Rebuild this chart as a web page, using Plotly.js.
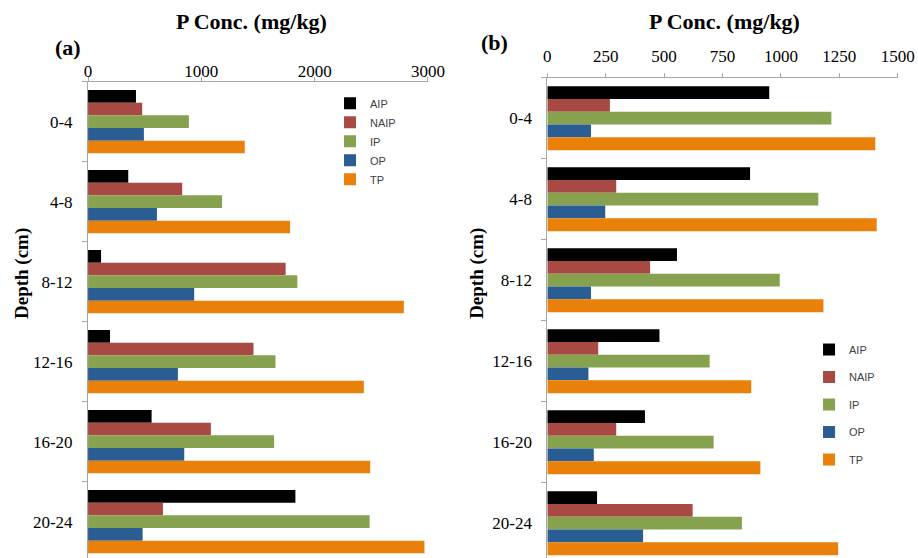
<!DOCTYPE html>
<html>
<head>
<meta charset="utf-8">
<script src="https://cdn.plot.ly/plotly-3.0.1.min.js"></script>
<style>html,body{margin:0;padding:0;background:#fff;}#chart{width:918px;height:558px;}</style>
</head>
<body>
<div id="chart"></div>
<script>
const depths = ['0-4', '4-8', '8-12', '12-16', '16-20', '20-24'];
const seriesNames = ['AIP', 'NAIP', 'IP', 'OP', 'TP'];
const seriesColors = ['#000000', '#A84A43', '#86A24E', '#2A5D93', '#E8800A'];

// Panel (a)
const a_AIP  = [423, 355, 115, 194, 561, 1830];
const a_NAIP = [478, 831, 1744, 1460, 1084, 661];
const a_IP   = [890, 1183, 1847, 1654, 1642, 2485];
const a_OP   = [493, 608, 937, 793, 849, 482];
const a_TP   = [1383, 1783, 2787, 2434, 2490, 2969];

// Panel (b)
const b_AIP  = [950, 868, 555, 480, 418, 213];
const b_NAIP = [268, 295, 440, 218, 295, 622];
const b_IP   = [1216, 1160, 995, 695, 712, 833];
const b_OP   = [187, 248, 187, 176, 199, 410];
const b_TP   = [1404, 1410, 1182, 873, 912, 1245];

const aSeries = [a_AIP, a_NAIP, a_IP, a_OP, a_TP];
const bSeries = [b_AIP, b_NAIP, b_IP, b_OP, b_TP];

const traces = [];
aSeries.forEach((vals, i) => {
  traces.push({
    type: 'bar', orientation: 'h', name: seriesNames[i],
    x: vals, y: depths, xaxis: 'x', yaxis: 'y',
    marker: {color: seriesColors[i]}, legend: 'legend'
  });
});
bSeries.forEach((vals, i) => {
  traces.push({
    type: 'bar', orientation: 'h', name: seriesNames[i],
    x: vals, y: depths, xaxis: 'x2', yaxis: 'y2',
    marker: {color: seriesColors[i]}, legend: 'legend2',
    legendgroup: 'b' + i
  });
});

const serif = 'Liberation Serif, Times New Roman, serif';
const tickFont = {family: serif, size: 17, color: '#000'};
const axLine = '#A6A6A6';

const xCommon = {
  side: 'top', showgrid: false, zeroline: false, showline: true,
  linecolor: axLine, linewidth: 1, ticks: 'outside', ticklen: 4,
  tickcolor: axLine, tickfont: tickFont, automargin: false, fixedrange: true
};
const yCommon = {
  type: 'category', categoryorder: 'array', categoryarray: depths,
  showgrid: false, zeroline: false, showline: true, linecolor: axLine,
  linewidth: 1, ticks: 'outside', ticklen: 5, tickcolor: axLine,
  tickson: 'boundaries', tickfont: tickFont, automargin: false,
  ticklabelstandoff: 11, fixedrange: true
};

const legendFont = {family: 'Liberation Sans, Arial, sans-serif', size: 11, color: '#404040'};

const layout = {
  width: 918, height: 558,
  margin: {l: 0, r: 0, t: 0, b: 0},
  paper_bgcolor: '#ffffff', plot_bgcolor: 'rgba(0,0,0,0)',
  barmode: 'group', bargap: 0.21, bargroupgap: 0,
  xaxis: Object.assign({}, xCommon, {domain: [0.0959, 0.4662], range: [0, 3000], dtick: 1000, anchor: 'y', ticklabelstandoff: -7}),
  yaxis: Object.assign({}, yCommon, {domain: [0, 0.8536], range: [5.454, -0.5], anchor: 'x'}),
  xaxis2: Object.assign({}, xCommon, {domain: [0.5962, 0.9779], range: [0, 1500], dtick: 250, anchor: 'y2', ticklabelstandoff: 4}),
  yaxis2: Object.assign({}, yCommon, {domain: [0, 0.8608], range: [5.43, -0.5], anchor: 'x2'}),
  legend: {x: 0.3595, y: 0.841, xanchor: 'left', yanchor: 'top', bgcolor: 'rgba(0,0,0,0)', font: legendFont, traceorder: 'normal'},
  legend2: {x: 0.8813, y: 0.3996, xanchor: 'left', yanchor: 'top', bgcolor: 'rgba(0,0,0,0)', font: legendFont, traceorder: 'grouped', tracegroupgap: 8.5},
  annotations: [
    {text: '<b>P Conc. (mg/kg)</b>', xref: 'paper', yref: 'paper', x: 0.2745, y: 0.9606, xanchor: 'center', yanchor: 'middle', showarrow: false, font: {family: serif, size: 22, color: '#000'}},
    {text: '<b>P Conc. (mg/kg)</b>', xref: 'paper', yref: 'paper', x: 0.7887, y: 0.9606, xanchor: 'center', yanchor: 'middle', showarrow: false, font: {family: serif, size: 22, color: '#000'}},
    {text: '<b>(a)</b>', xref: 'paper', yref: 'paper', x: 0.0741, y: 0.914, xanchor: 'center', yanchor: 'middle', showarrow: false, font: {family: serif, size: 22, color: '#000'}},
    {text: '<b>(b)</b>', xref: 'paper', yref: 'paper', x: 0.5392, y: 0.923, xanchor: 'center', yanchor: 'middle', showarrow: false, font: {family: serif, size: 22, color: '#000'}},
    {text: '<b>Depth (cm)</b>', xref: 'paper', yref: 'paper', x: 0.024, y: 0.509, xanchor: 'center', yanchor: 'middle', textangle: -90, showarrow: false, font: {family: serif, size: 19, color: '#000'}},
    {text: '<b>Depth (cm)</b>', xref: 'paper', yref: 'paper', x: 0.5196, y: 0.511, xanchor: 'center', yanchor: 'middle', textangle: -90, showarrow: false, font: {family: serif, size: 19, color: '#000'}}
  ]
};

Plotly.newPlot('chart', traces, layout, {displayModeBar: false, staticPlot: true});
</script>
</body>
</html>
